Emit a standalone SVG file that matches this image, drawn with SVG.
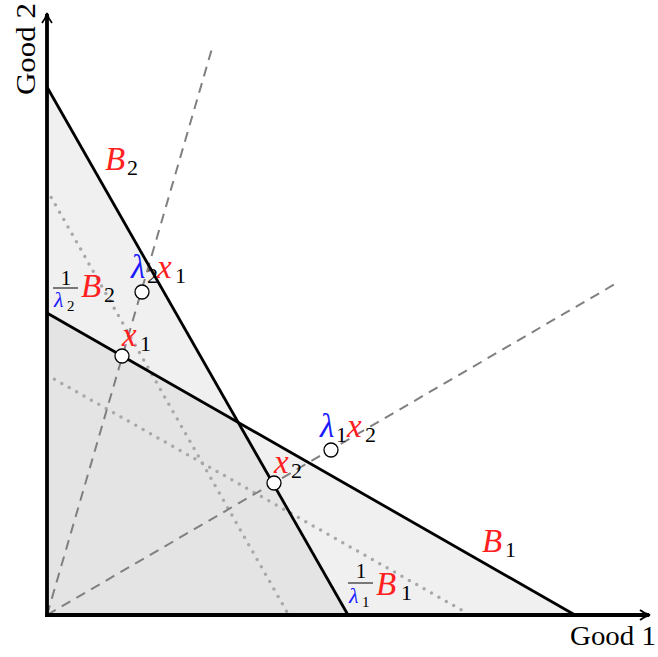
<svg xmlns="http://www.w3.org/2000/svg" width="658" height="657" viewBox="0 0 658 657">
<defs>
<style>
.ax{stroke:#000;stroke-width:3.8;fill:none}
.bl{stroke:#000;stroke-width:2.8;fill:none}
.dash{stroke:#808080;stroke-width:2;stroke-dasharray:10 7;fill:none}
.dot{stroke:#a8a8a8;stroke-width:3.5;stroke-linecap:round;stroke-dasharray:0 8.5;fill:none}
.pt{fill:#fff;stroke:#000;stroke-width:1.3}
.t{font-family:"Liberation Serif",serif;fill:#000}
.m{font-family:"Liberation Serif",serif;font-style:italic;font-size:33px}
.s{font-family:"Liberation Serif",serif;font-size:22px;fill:#000}
.fn{font-family:"Liberation Serif",serif;font-size:21px;fill:#000}
.fl{font-family:"Liberation Serif",serif;font-style:italic;font-size:22px;fill:#1a1aff}
.fs{font-family:"Liberation Serif",serif;font-size:15px;fill:#000}
.r{fill:#ff2020}
.b{fill:#1a1aff}
</style>
<marker id="arr" viewBox="0 0 12 12" refX="10" refY="6" markerWidth="12" markerHeight="12" markerUnits="userSpaceOnUse" orient="auto">
<path d="M1,1 Q6,5 11,6 Q6,7 1,11" fill="none" stroke="#000" stroke-width="1.8"/>
</marker>
</defs>
<rect width="658" height="657" fill="#fff"/>
<g id="regions">
<polygon points="47,87 238,422 575,615 47,615" fill="#f0f0f0"/>
<polygon points="47,313 238,422 348,615 47,615" fill="#e4e4e4"/>
</g>
<g id="connectors">
<line class="dot" x1="47" y1="190" x2="287" y2="612"/>
<line class="dot" x1="47" y1="375" x2="465" y2="612"/>
<line class="dash" x1="47" y1="615" x2="213" y2="45"/>
<line class="dash" x1="47" y1="615" x2="615" y2="284"/>
<line class="bl" x1="47" y1="87" x2="348" y2="615"/>
<line class="bl" x1="47" y1="313" x2="575" y2="615"/>
<line class="ax" x1="47" y1="616.9" x2="47" y2="14" marker-end="url(#arr)"/>
<line class="ax" x1="45.1" y1="615" x2="649" y2="615" marker-end="url(#arr)"/>
</g>
<g id="points">
<circle class="pt" cx="142" cy="292" r="7"/>
<circle class="pt" cx="122" cy="356" r="7"/>
<circle class="pt" cx="331" cy="450" r="7"/>
<circle class="pt" cx="274" cy="483" r="7"/>
</g>
<g id="labels">
<text class="t" x="570" y="645" font-size="27" textLength="86" lengthAdjust="spacingAndGlyphs">Good 1</text>
<text class="t" x="35" y="95" font-size="27" textLength="92" lengthAdjust="spacingAndGlyphs" transform="rotate(-90 35 95)">Good 2</text>
<g id="lbl-B2"><text class="m r" x="105" y="170">B</text><text class="s" x="127" y="175">2</text></g>
<g id="lbl-B1"><text class="m r" x="482" y="552">B</text><text class="s" x="505" y="557">1</text></g>
<g id="lbl-l2x1"><text class="m b" x="131" y="278">λ</text><text class="s" x="147" y="283">2</text><text class="m r" x="157" y="278">x</text><text class="s" x="175" y="283">1</text></g>
<g id="lbl-l1x2"><text class="m b" x="320" y="437">λ</text><text class="s" x="336" y="442">1</text><text class="m r" x="347" y="437">x</text><text class="s" x="365" y="442">2</text></g>
<g id="lbl-x1"><text class="m r" x="122" y="346">x</text><text class="s" x="140" y="351">1</text></g>
<g id="lbl-x2"><text class="m r" x="274" y="473">x</text><text class="s" x="291" y="478">2</text></g>
<g id="lbl-fB2">
<text class="fn" x="66" y="285" text-anchor="middle">1</text>
<line x1="53" y1="288" x2="78" y2="288" stroke="#000" stroke-width="1"/>
<text class="fl" x="54" y="307">λ</text><text class="fs" x="67" y="311">2</text>
<text class="m r" x="81" y="297">B</text><text class="s" x="104" y="302">2</text>
</g>
<g id="lbl-fB1">
<text class="fn" x="361" y="578" text-anchor="middle">1</text>
<line x1="348" y1="583" x2="373" y2="583" stroke="#000" stroke-width="1"/>
<text class="fl" x="349" y="603">λ</text><text class="fs" x="362" y="607">1</text>
<text class="m r" x="376" y="595">B</text><text class="s" x="401" y="600">1</text>
</g>
</g>
</svg>
